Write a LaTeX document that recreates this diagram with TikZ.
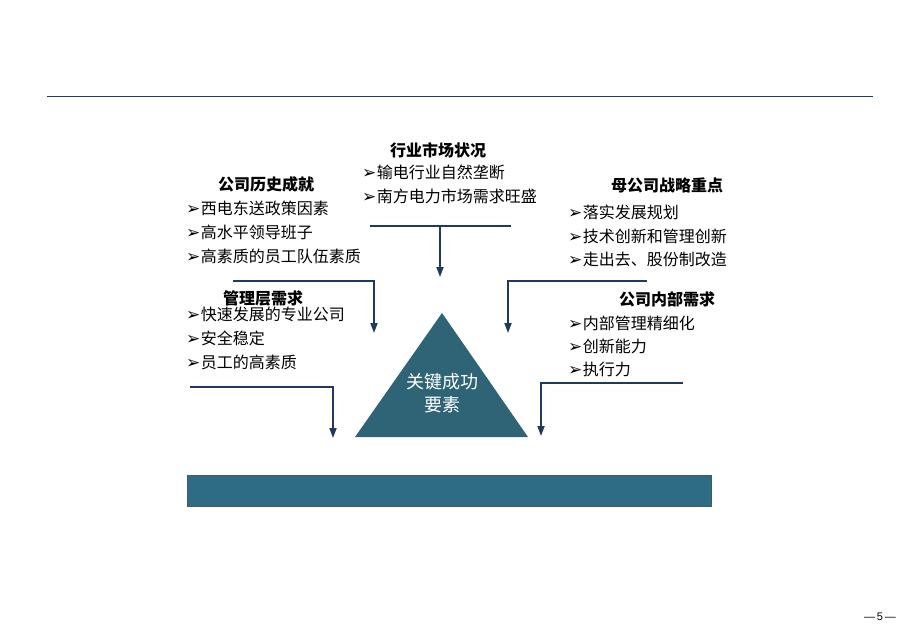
\documentclass[tikz,border=0pt]{standalone}
\usepackage{fontspec}
\setmainfont{Noto Sans CJK SC}
\newfontfamily\dvfont{DejaVu Sans}
\newfontfamily\lsfont{Liberation Sans}
\usetikzlibrary{arrows.meta}
\definecolor{navy}{HTML}{1F3A5C}
\definecolor{tric}{HTML}{2F6477}
\definecolor{barc}{HTML}{2E6C86}
\definecolor{barb}{HTML}{3B5F6E}
\newcommand\bul{{\dvfont\fontsize{17}{18}\selectfont ➢}\kern0.5pt}
\begin{document}
\begin{tikzpicture}[x=1pt,y=-1pt,
  hd/.style={font=\fontsize{16}{18}\selectfont\bfseries, inner sep=0},
  it/.style={font=\fontsize{16}{18}\selectfont, anchor=west, inner sep=0},
  conn/.style={draw=navy, line width=1.8pt},
  arr/.style={conn, -{Triangle[width=7pt,length=10pt]}}]
\useasboundingbox (0,0) rectangle (920,638);
\fill[white] (0,0) rectangle (920,638);
% top rule
\coordinate (ra) at (47,96);
\coordinate (rb) at (873,96);
\draw[navy, line width=0.9pt] (ra) -- (rb);

% top center group
\node[hd] (h1) at (438,150) {行业市场状况};
\node[it] (i11) at (362,172) {\bul 输电行业自然垄断};
\node[it] (i12) at (362,196) {\bul 南方电力市场需求旺盛};

% left top group
\node[hd] (h2) at (266,184) {公司历史成就};
\node[it] (i21) at (186,208) {\bul 西电东送政策因素};
\node[it] (i22) at (186,232) {\bul 高水平领导班子};
\node[it] (i23) at (186,256) {\bul 高素质的员工队伍素质};

% right top group
\node[hd] (h3) at (667,185) {母公司战略重点};
\node[it] (i31) at (568,212) {\bul 落实发展规划};
\node[it] (i32) at (568,236) {\bul 技术创新和管理创新};
\node[it] (i33) at (568,259) {\bul 走出去、股份制改造};

% left middle group
\node[hd] (h4) at (263,298) {管理层需求};
\node[it] (i41) at (186,314) {\bul 快速发展的专业公司};
\node[it] (i42) at (186,338) {\bul 安全稳定};
\node[it] (i43) at (186,362) {\bul 员工的高素质};

% right middle group
\node[hd] (h5) at (667,299) {公司内部需求};
\node[it] (i51) at (568,323) {\bul 内部管理精细化};
\node[it] (i52) at (568,346) {\bul 创新能力};
\node[it] (i53) at (568,369) {\bul 执行力};

% triangle
\coordinate (tA) at (442,313);
\coordinate (tB) at (355,437);
\coordinate (tC) at (528,437);
\fill[tric] (tA) -- (tB) -- (tC) -- cycle;
\node[font=\fontsize{18}{23}\selectfont, text=white, align=center, inner sep=0] (tt) at (442,393) {关键成功\\要素};

% bar
\node[draw=barb, line width=1pt, fill=barc, minimum width=524pt, minimum height=31pt, inner sep=0] (bar) at (449.5,490.5) {};

% connectors
\coordinate (c1a) at (370,226);
\coordinate (c1b) at (511,226);
\coordinate (c1m) at (440,226);
\coordinate (c1t) at (440,277);
\draw[conn] (c1a) -- (c1b);
\draw[arr] (c1m) -- (c1t);

\coordinate (c2a) at (233,281);
\coordinate (c2b) at (374,281);
\coordinate (c2t) at (374,333);
\draw[arr] (c2a) -- (c2b) -- (c2t);

\coordinate (c3a) at (647,281);
\coordinate (c3b) at (508,281);
\coordinate (c3t) at (508,333);
\draw[arr] (c3a) -- (c3b) -- (c3t);

\coordinate (c4a) at (190,387);
\coordinate (c4b) at (333,387);
\coordinate (c4t) at (333,438);
\draw[arr] (c4a) -- (c4b) -- (c4t);

\coordinate (c5a) at (683,383);
\coordinate (c5b) at (541,383);
\coordinate (c5t) at (541,436);
\draw[arr] (c5a) -- (c5b) -- (c5t);

% page number
\node[font=\lsfont\fontsize{11}{13}\selectfont, inner sep=0] (pg) at (880,617) {—\,5\,—};
\end{tikzpicture}
\end{document}
